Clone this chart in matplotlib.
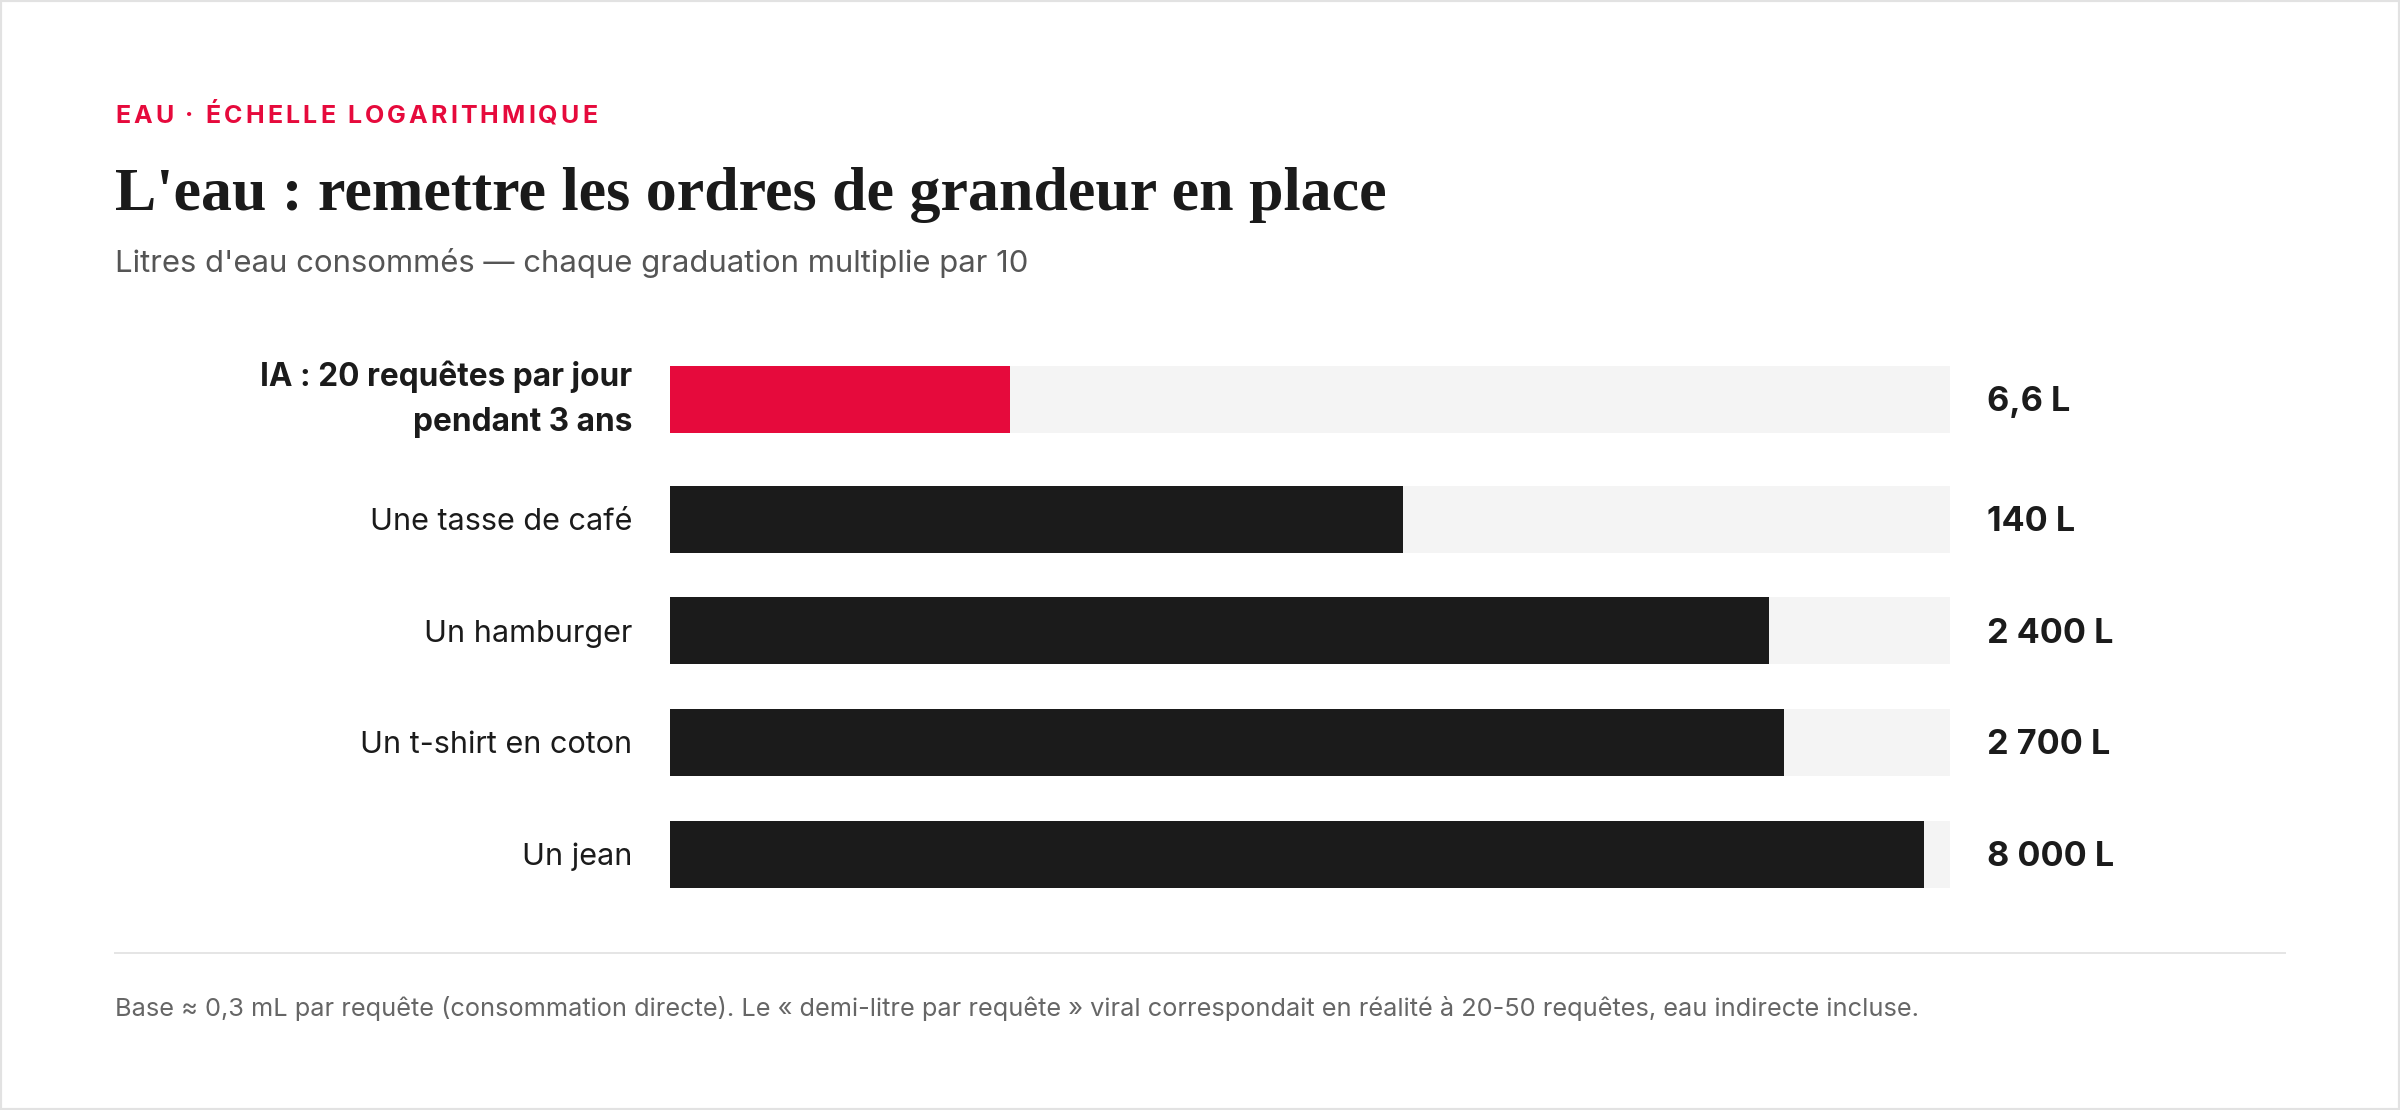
import matplotlib.pyplot as plt
import matplotlib.transforms as mtransforms
from matplotlib.patches import Rectangle
from matplotlib.lines import Line2D
from matplotlib.font_manager import FontProperties

# data
categories = ["IA : 20 requêtes par jour\npendant 3 ans", "Une tasse de café",
              "Un hamburger", "Un t-shirt en coton", "Un jean"]
litres = [6.6, 140, 2400, 2700, 8000]
value_labels = ["6,6 L", "140 L", "2 400 L", "2 700 L", "8 000 L"]
highlight = [True, False, False, False, False]

kicker = "EAU · ÉCHELLE LOGARITHMIQUE"
title = "L'eau : remettre les ordres de grandeur en place"
subtitle = "Litres d'eau consommés — chaque graduation multiplie par 10"
note = ("Base ≈ 0,3 mL par requête (consommation directe). Le « demi-litre par requête » "
        "viral correspondait en réalité à 20-50 requêtes, eau indirecte incluse.")

RED = "#e60a3c"
INK = "#1b1b1b"
TRACK = "#f4f4f4"
SANS = ["Inter", "DejaVu Sans"]
SERIF = ["Liberation Serif", "DejaVu Serif"]

W, H = 2400, 1110
PT = 0.72  # points per pixel at dpi 100

fig = plt.figure(figsize=(24, 11.1), dpi=100)
fig.patch.set_facecolor("white")
renderer = fig.canvas.get_renderer()


def fx(x):
    return x / W


def fy(y):
    return 1 - y / H


def width_of(s, size, weight="normal", family=SANS):
    fp = FontProperties(family=family, weight=weight, size=size)
    return renderer.get_text_width_height_descent(s, fp, ismath=False)[0]


# bars area, y in pixel units
ax = fig.add_axes([fx(670), fy(900), fx(1950) - fx(670), (900 - 350) / H])
ax.set_xscale("log")
xmin, xmax = 0.47, 9800
ax.set_xlim(xmin, xmax)
ax.set_ylim(900, 350)
ax.axis("off")

pitch = 111.7
row_y = [399.5] + [519 + pitch * i for i in range(len(categories) - 1)]

ax.barh(row_y, [xmax - xmin] * len(row_y), left=xmin, height=67, color=TRACK)
ax.barh(row_y, [v - xmin for v in litres], left=xmin, height=67,
        color=[RED if h else INK for h in highlight])

# sizes fitted to measured label widths
lab_size = 21 * 263 / width_of("Une tasse de café", 21)
bold_size = 21 * 372 / width_of("IA : 20 requêtes par jour", 21, "bold")
val_size = 21 * 127 / width_of("8 000 L", 21, "bold")

trans = mtransforms.blended_transform_factory(ax.transAxes, ax.transData)
nudge = 3  # optical centring, px
for y, cat, val, hl in zip(row_y, categories, value_labels, highlight):
    ax.text(-0.0297, y + (0 if hl else nudge), cat, transform=trans,
            ha="right", va="center", multialignment="right", linespacing=1.6,
            family=SANS, fontsize=bold_size if hl else lab_size,
            fontweight="bold" if hl else "normal", color=INK)
    ax.text(1.029, y + nudge, val, transform=trans, ha="left", va="center",
            family=SANS, fontsize=val_size, fontweight="bold", color=INK)


def fitted(x, y, s, width, size, **kw):
    t = fig.text(fx(x), fy(y), s, fontsize=size, va="baseline", **kw)
    w = t.get_window_extent(renderer).width
    t.set_fontsize(size * width / w)
    return t


# header: letter-spaced kicker
kp = FontProperties(family=SANS, weight="bold", size=25 * PT)


def tw(s):
    return renderer.get_text_width_height_descent(s, kp, ismath=False)[0]


nat = tw(kicker)
gap = (482 - nat) / (len(kicker) - 1)
bar_w = tw("|")
for i, ch in enumerate(kicker):
    off = tw(kicker[:i] + "|") - bar_w if i else 0
    fig.text(fx(115 + off + gap * i), fy(123), ch, fontproperties=kp,
             color=RED, va="baseline")

fitted(115, 210, title, 1273, 47, family=SERIF, fontweight="bold", color="#1a1a1a")
fitted(115, 272, subtitle, 915, 26 * PT, family=SANS, color="#555555")

# footer
fig.add_artist(Line2D([fx(115), fx(2285)], [fy(953), fy(953)], color="#e5e5e5",
                      linewidth=2 * PT, transform=fig.transFigure))
fitted(115, 1016, note, 1803, 23 * PT, family=SANS, color="#666666")

fig.add_artist(Rectangle((0, 0), 1, 1, transform=fig.transFigure, fill=False,
                         edgecolor="#e2e2e2", linewidth=3))

fig.savefig("out.png", dpi=100, facecolor="white")
